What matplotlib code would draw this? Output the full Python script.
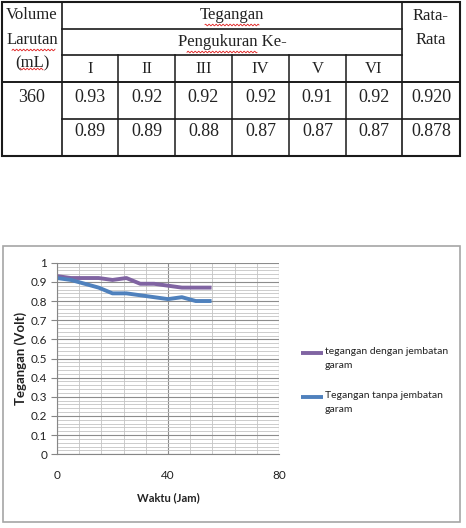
import numpy as np
import matplotlib
matplotlib.use('Agg')
import matplotlib.pyplot as plt
from matplotlib.patches import Rectangle
from matplotlib.ticker import MultipleLocator, FixedLocator, FuncFormatter

# data tabel
pengukuran = ['I', 'II', 'III', 'IV', 'V', 'VI']
volume = '360'
baris_1 = [0.93, 0.92, 0.92, 0.92, 0.91, 0.92]
baris_2 = [0.89, 0.89, 0.88, 0.87, 0.87, 0.87]
rata_rata = [0.920, 0.878]

# data grafik
waktu = [0, 5, 10, 15, 20, 25, 30, 35, 40, 45, 50, 55]
dengan_jembatan = [0.93, 0.92, 0.92, 0.92, 0.91, 0.92, 0.89, 0.89, 0.88, 0.87, 0.87, 0.87]
tanpa_jembatan = [0.92, 0.91, 0.89, 0.87, 0.84, 0.84, 0.83, 0.82, 0.81, 0.82, 0.80, 0.80]
label_seri = ['tegangan dengan jembatan\ngaram', 'Tegangan tanpa jembatan\ngaram']
warna_seri = ['#8064A2', '#4F81BD']

W, H = 466, 528
fig = plt.figure(figsize=(W / 100, H / 100), dpi=100)

# lapisan bawah dalam koordinat piksel
bg = fig.add_axes([0, 0, 1, 1])
bg.set_xlim(0, W)
bg.set_ylim(H, 0)
bg.axis('off')

serif = 'Liberation Serif'
garis = '#1a1a1a'

xs = [2, 62, 118, 175, 232, 289, 346, 402, 460]
ys = [2, 29, 55, 82, 119, 156]

# garis tabel
bg.add_patch(Rectangle((xs[0], ys[0]), xs[-1] - xs[0], ys[-1] - ys[0],
                       fill=False, ec=garis, lw=1.5))
for x in (xs[1], xs[7]):
    bg.plot([x, x], [ys[0], ys[-1]], color=garis, lw=1.2)
for y in (ys[1], ys[2]):
    bg.plot([xs[1], xs[7]], [y, y], color=garis, lw=1.2)
bg.plot([xs[0], xs[-1]], [ys[3], ys[3]], color=garis, lw=1.4)
bg.plot([xs[1], xs[-1]], [ys[4], ys[4]], color=garis, lw=1.2)
for x in xs[2:7]:
    bg.plot([x, x], [ys[2], ys[-1]], color=garis, lw=1.1)

# teks header
hdr = dict(family=serif, fontsize=12, ha='center', va='center', color='#222222')
bg.text(32, 15, 'Volume', **hdr)
bg.text(32, 40, 'Larutan', **hdr)
bg.text(32, 63, '(mL)', **hdr)
bg.text(232, 15, 'Tegangan', **hdr)
bg.text(232, 42, 'Pengukuran Ke-', **hdr)
bg.text(431, 16, 'Rata-', **hdr)
bg.text(431, 40, 'Rata', **hdr)
for i, r in enumerate(pengukuran):
    bg.text((xs[i + 1] + xs[i + 2]) / 2, 69, r, **hdr)

# isi tabel
num = dict(family=serif, fontsize=13, ha='center', va='center', color='#222222')
bg.text(32, 97, volume, **num)
for i in range(6):
    cx = (xs[i + 1] + xs[i + 2]) / 2
    bg.text(cx, 97, f'{baris_1[i]:.2f}', **num)
    bg.text(cx, 132, f'{baris_2[i]:.2f}', **num)
bg.text(431, 97, f'{rata_rata[0]:.3f}', **num)
bg.text(431, 132, f'{rata_rata[1]:.3f}', **num)

# garis merah bergelombang (spell check)
for x0, x1, y0 in [(205, 259, 25), (187, 257, 52), (12, 55, 50), (20, 43, 69)]:
    t = np.linspace(x0, x1, 200)
    bg.plot(t, y0 + 0.8 * np.sin(t * 2 * np.pi / 3.5), color='#e02020', lw=0.6)

# bingkai grafik
bg.add_patch(Rectangle((2.5, 246), 457.5, 276, fill=False, ec='#a6a6a6', lw=1.2))

# grafik
sans = ['Lato', 'DejaVu Sans']
ax = fig.add_axes([57 / W, 1 - 454.3 / H, 222 / W, 191.6 / H])
ax.plot(waktu, dengan_jembatan, color=warna_seri[0], lw=2.8)
ax.plot(waktu, tanpa_jembatan, color=warna_seri[1], lw=2.8)

ax.set_xlim(0, 80)
ax.set_ylim(0, 1)
ax.xaxis.set_major_locator(FixedLocator([0, 40, 80]))
ax.xaxis.set_minor_locator(MultipleLocator(8))
ax.yaxis.set_major_locator(MultipleLocator(0.1))
ax.yaxis.set_minor_locator(MultipleLocator(0.02))
ax.yaxis.set_major_formatter(FuncFormatter(lambda v, p: f'{round(v, 1):g}'))
ax.grid(which='major', color='#8c8c8c', lw=0.8)
ax.grid(which='minor', color='#c4c4c4', lw=0.6)
ax.set_axisbelow(True)
for s in ('top', 'right'):
    ax.spines[s].set_visible(False)
for s in ('left', 'bottom'):
    ax.spines[s].set_color('#868686')
ax.tick_params(which='major', length=4, color='#868686', labelsize=8.5,
               labelcolor='#222222')
ax.tick_params(axis='x', which='major', length=0, pad=11)
ax.tick_params(axis='y', which='major', pad=3)
ax.tick_params(which='minor', length=0)
for lab in ax.get_xticklabels() + ax.get_yticklabels():
    lab.set_family(sans)

ax.set_xlabel('Waktu (Jam)', family=sans, fontsize=8, fontweight='bold',
              color='#222222', labelpad=8)
ax.set_ylabel('Tegangan (Volt)', family=sans, fontsize=9.5, fontweight='bold',
              color='#222222', labelpad=3)

# legenda
for k, (lab, wr) in enumerate(zip(label_seri, warna_seri)):
    y0 = 353 + k * 44
    bg.plot([301, 323], [y0, y0], color=wr, lw=2.8, solid_capstyle='butt')
    bg.text(325, y0 - 6, lab, family=sans, fontsize=7.5, color='#222222',
            ha='left', va='top', linespacing=1.75)

fig.savefig('out.png', dpi=100)
